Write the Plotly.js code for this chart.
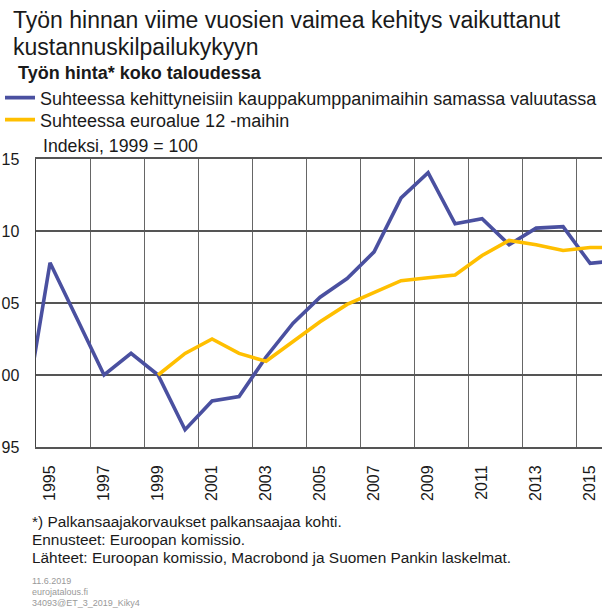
<!DOCTYPE html>
<html>
<head>
<meta charset="utf-8">
<script src="https://cdn.plot.ly/plotly-3.0.1.min.js"></script>
<style>html,body{margin:0;padding:0;background:#fff;}#chart{width:602px;height:611px;}</style>
</head>
<body>
<div id="chart"></div>
<script>
// ---- data ----
const yearsBlue = [1994,1995,1996,1997,1998,1999,2000,2001,2002,2003,2004,2005,2006,2007,2008,2009,2010,2011,2012,2013,2014,2015,2016];
const blueValues = [96.5,107.8,103.9,100.0,101.5,100.0,96.2,98.2,98.5,101.25,103.6,105.4,106.7,108.55,112.3,114.05,110.5,110.85,109.05,110.2,110.3,107.75,107.95];
const yearsYellow = [1999,2000,2001,2002,2003,2004,2005,2006,2007,2008,2009,2010,2011,2012,2013,2014,2015,2016];
const yellowValues = [100.0,101.5,102.5,101.5,100.95,102.35,103.7,104.9,105.75,106.55,106.75,106.95,108.3,109.35,109.05,108.65,108.85,108.85];
const xTickYears = [1995,1997,1999,2001,2003,2005,2007,2009,2011,2013,2015];
const xTickLabels = ["1995","1997","1999","2001","2003","2005","2007","2009","2011","2013","2015"];
const gridYears = [1994.5,1996.5,1998.5,2000.5,2002.5,2004.5,2006.5,2008.5,2010.5,2012.5,2014.5];
const yTickValues = [95,100,105,110,115];
const yTickLabels = ["95","00","05","10","15"];
const seriesNames = ["Suhteessa kehittyneisiin kauppakumppanimaihin samassa valuutassa","Suhteessa euroalue 12 -maihin"];

const FONT = "Liberation Sans, Arial, sans-serif";
const L = 36, R = 602, T = 159, B = 446.7;
const W = R - L, H = B - T;
const px = x => (x - L) / W;
const py = y => (B - y) / H;

function txt(text, x, y, size, opts) {
  opts = opts || {};
  return {
    text: text, xref: 'paper', yref: 'paper', x: px(x), y: py(y),
    xanchor: 'left', yanchor: 'middle', showarrow: false, align: 'left',
    font: {family: FONT, size: size, color: opts.color || '#1a1a1a'}
  };
}

const traces = [
  {x: yearsBlue, y: blueValues, name: seriesNames[0], type: 'scatter', mode: 'lines',
   line: {color: '#4a50a0', width: 3.6}, legend: 'legend'},
  {x: yearsYellow, y: yellowValues, name: seriesNames[1], type: 'scatter', mode: 'lines',
   line: {color: '#ffbf00', width: 3.6}, legend: 'legend2'}
];

const legendBase = {xanchor: 'left', yanchor: 'middle', bgcolor: 'rgba(0,0,0,0)',
  font: {family: FONT, size: 18, color: '#1a1a1a'}, itemwidth: 30, tracegroupgap: 0};

const layout = {
  width: 602, height: 611,
  margin: {l: L, r: 602 - R, t: T, b: 611 - B},
  paper_bgcolor: '#fff', plot_bgcolor: '#fff',
  font: {family: FONT, size: 16, color: '#1a1a1a'},
  showlegend: true,
  legend: Object.assign({}, legendBase, {x: px(0), y: py(98)}),
  legend2: Object.assign({}, legendBase, {x: px(0), y: py(120)}),
  xaxis: {
    range: [1994.48, 2015.44], tickmode: 'array', tickvals: xTickYears, ticktext: xTickLabels,
    tickangle: -90, ticks: '', ticklabelstandoff: 10, tickfont: {size: 16, color: '#1a1a1a'},
    showgrid: false, zeroline: false,
    showline: true, linecolor: '#555', linewidth: 2, mirror: true,
    minor: {tickmode: 'array', tickvals: gridYears, showgrid: true, gridcolor: '#666', gridwidth: 1.3, ticks: ''}
  },
  yaxis: {
    range: [95, 115], tickmode: 'array', tickvals: yTickValues, ticktext: yTickLabels,
    ticks: '', ticklabelstandoff: 12, tickfont: {size: 16, color: '#1a1a1a'},
    showgrid: true, gridcolor: '#555', gridwidth: 1.1, zeroline: false,
    showline: true, linecolor: '#444', linewidth: 1.5
  },
  annotations: [
    txt('Työn hinnan viime vuosien vaimea kehitys vaikuttanut', 11, 20.6, 23),
    txt('kustannuskilpailukykyyn', 11, 47, 23),
    txt('<b>Työn hinta* koko taloudessa</b>', 16, 73, 18),
    txt('Indeksi, 1999 = 100', 41, 146, 17.7),
    txt('*) Palkansaajakorvaukset palkansaajaa kohti.', 30, 521, 15.4),
    txt('Ennusteet: Euroopan komissio.', 30, 539, 15.4),
    txt('Lähteet: Euroopan komissio, Macrobond ja Suomen Pankin laskelmat.', 30, 557, 15.4),
    txt('11.6.2019', 30, 581, 9, {color: '#999'}),
    txt('eurojatalous.fi', 30, 592, 9, {color: '#999'}),
    txt('34093@ET_3_2019_Kiky4', 30, 603, 9, {color: '#999'})
  ]
};

Plotly.newPlot('chart', traces, layout, {displayModeBar: false, staticPlot: true});
</script>
</body>
</html>
